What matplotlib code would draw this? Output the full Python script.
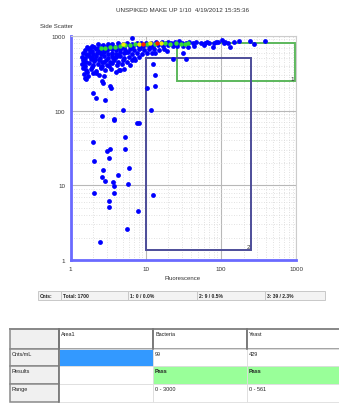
import numpy as np
import matplotlib.pyplot as plt
from matplotlib.patches import Rectangle

plt.rcParams['font.family'] = ['Liberation Sans', 'DejaVu Sans']

title = 'UNSPIKED MAKE UP 1/10  4/19/2012 15:35:36'

# events: (fluorescence, side scatter)
cloud = [
    (2.7, 760), (3.1, 790), (3.6, 775), (4.2, 800), (4.9, 785), (5.7, 805), (6.5, 790),
    (7.6, 810), (8.7, 795), (10.2, 815), (11.8, 800), (13.6, 820), (15.8, 805), (18.5, 815),
    (21.5, 800), (24.5, 820), (27.5, 795), (30.5, 815), (34, 800), (38, 825), (42, 805),
    (47, 820), (55, 810), (62, 800), (70, 815), (82, 805), (92, 820), (110, 810), (125, 800),
    (150, 830), (6.6, 930), (103, 885), (172, 865), (246, 865), (381, 865), (272, 782),
    (133, 720), (79, 720), (60, 760),
    (1.8, 690), (2.05, 720), (2.3, 700), (2.6, 735), (2.95, 710), (3.4, 740), (3.9, 715),
    (4.4, 745), (5.1, 720), (5.9, 750), (6.8, 730), (7.9, 755), (9.1, 735), (10.6, 760),
    (12.4, 745), (14.5, 765), (17, 740), (19.8, 760), (23, 735), (26, 745), (31, 730),
    (36, 720), (44, 740),
    (1.55, 640), (1.75, 665), (1.95, 630), (2.15, 660), (2.4, 645), (2.7, 670), (3.05, 640),
    (3.5, 665), (4.0, 650), (4.6, 675), (5.3, 645), (6.1, 670), (7.0, 650), (8.1, 675),
    (9.4, 655), (11, 680), (12.8, 660), (15, 640), (17.5, 665), (19.4, 637), (13.3, 600),
    (1.45, 590), (1.62, 570), (1.8, 605), (2.0, 580), (2.25, 600), (2.5, 575), (2.8, 605),
    (3.15, 580), (3.55, 600), (4.0, 575), (4.5, 605), (5.1, 585), (5.8, 610), (6.6, 580),
    (7.6, 600), (8.9, 575), (10.3, 595), (12, 585), (31.7, 588),
    (1.4, 530), (1.57, 515), (1.75, 545), (1.95, 520), (2.2, 540), (2.45, 510), (2.75, 535),
    (3.1, 515), (3.5, 545), (3.95, 520), (4.5, 540), (5.1, 510), (5.9, 530), (6.9, 505),
    (8.2, 525), (22.9, 489), (34.1, 489),
    (1.45, 470), (1.62, 455), (1.85, 485), (2.05, 460), (2.35, 475), (2.6, 450), (2.95, 480),
    (3.3, 455), (3.75, 470), (4.3, 450), (4.9, 475), (5.7, 455), (6.6, 480), (7.2, 480),
    (1.4, 420), (1.55, 400), (1.75, 430), (2.0, 410), (2.3, 425), (2.65, 400), (3.0, 415),
    (3.5, 430), (4.1, 405), (4.8, 420), (6.2, 410), (12.4, 420),
    (1.45, 370), (1.6, 350), (1.85, 365), (2.15, 345), (2.5, 370), (2.9, 350), (3.4, 360),
    (4.02, 334), (4.4, 352), (4.6, 352), (5.2, 365),
    (1.5, 310), (1.7, 295), (2.0, 315), (2.35, 300), (2.8, 290), (1.55, 272), (13.3, 296),
    (2.3, 770), (1.65, 705), (1.9, 745), (2.45, 610), (3.25, 690), (4.7, 700), (6.3, 710),
    (8.5, 700), (11.5, 720), (1.7, 560), (2.1, 495), (2.75, 445), (3.7, 500), (4.3, 560),
    (5.4, 615), (1.5, 455), (1.9, 390), (2.55, 385), (3.2, 395), (1.65, 330), (2.2, 320),
    (16.5, 840), (20, 835), (28, 845), (65, 840), (85, 830), (115, 840),
]

tail = [
    (1.6, 267), (2.61, 251), (2.72, 234), (3.34, 211), (3.41, 201), (13.3, 215), (10.5, 203),
    (1.96, 175), (2.17, 146), (2.89, 140), (4.94, 101), (11.8, 101), (2.59, 85.7),
    (3.78, 77.5), (3.81, 75.9), (7.57, 68.5), (8.07, 68.5),
    (1.96, 38.3), (2.06, 21.1), (3.05, 28.7), (3.37, 30.9), (3.21, 23.4), (5.25, 44.6),
    (5.25, 30.9), (2.72, 16.0), (2.59, 13.1), (2.89, 11.6), (4.24, 13.7), (5.93, 16.9),
    (3.63, 11.1), (3.81, 9.9), (5.87, 10.5), (2.06, 8.0), (3.78, 8.0), (12.4, 7.5),
    (3.21, 6.1), (3.21, 5.1), (7.97, 4.6), (5.58, 2.59), (2.46, 1.75),
]

# denser ridge coloured by event density
ridge_green = [
    (2.5, 690), (2.9, 700), (3.3, 720), (3.9, 705), (4.5, 740), (5.3, 760), (6.2, 750),
    (7.2, 780), (10.5, 790), (13.3, 790), (18, 810), (21, 790), (25, 800), (29, 780),
    (33, 790), (36, 810),
]
ridge_yellow = [(5.0, 770), (8.0, 790), (11.5, 805), (16, 800)]
ridge_red = [(9.2, 785), (14.3, 795)]

# gates: (x0, x1, y0, y1, label)
gate_green = (25.9, 980, 246, 800, '1')
gate_navy = (10, 253, 1.36, 514, '2')

stats = ['Cnts:', 'Total: 1700', '1: 0 / 0.0%', '2: 9 / 0.5%', '3: 39 / 2.3%']
stat_edges = [38, 61, 128, 197, 265, 325]

col_names = ['', 'Area1', 'Bacteria', 'Yeast']
row_names = ['Cnts/mL', 'Results', 'Range']
bacteria = ['99', 'Pass', '0 - 3000']
yeast = ['429', 'Pass', '0 - 561']

fig = plt.figure(figsize=(3.39, 4.06), dpi=100)
ax = fig.add_axes([70.7 / 339, 1 - 261 / 406, 225.3 / 339, 224 / 406])
ax.set_xscale('log')
ax.set_yscale('log')
ax.set_xlim(1, 1000)
ax.set_ylim(1, 1000)

ax.grid(which='major', color='#b8b8b8', lw=0.8, ls='-')
ax.grid(which='minor', color='#d8d8d8', lw=0.6, ls=(0, (1, 2)))
ax.set_axisbelow(True)
ax.set_xticks([1, 10, 100, 1000])
ax.set_xticklabels(['1', '10', '100', '1000'])
ax.set_yticks([1, 10, 100, 1000])
ax.set_yticklabels(['1', '10', '100', '1000'])
ax.tick_params(which='both', length=0, labelsize=4.5, colors='#333333', pad=4)
for s in ['left', 'bottom']:
    ax.spines[s].set_color('#6a6aff')
    ax.spines[s].set_linewidth(2)
for s in ['top', 'right']:
    ax.spines[s].set_color('#cccccc')
    ax.spines[s].set_linewidth(0.8)

for g, c in [(gate_green, '#5cb85c'), (gate_navy, '#4d4d99')]:
    x0, x1, y0, y1, lab = g
    ax.add_patch(Rectangle((x0, y0), x1 - x0, y1 - y0, fill=False, ec=c, lw=1.4, zorder=2))
    ax.text(x1 * 0.96, y0 * 1.02, lab, fontsize=4.5, ha='right', va='bottom', color='#333333')

pts = np.array(cloud + tail)
ax.scatter(pts[:, 0], pts[:, 1], s=12, c='#0000ff', lw=0, zorder=3)
for grp, c in [(ridge_green, '#33dd33'), (ridge_yellow, '#eeee00'), (ridge_red, '#ff2200')]:
    g = np.array(grp)
    ax.scatter(g[:, 0], g[:, 1], s=10, c=c, lw=0, zorder=4)

fig.text(183 / 339, 1 - 11 / 406, title, fontsize=4.5, ha='center', va='center', color='#333333')
fig.text(40 / 339, 1 - 26 / 406, 'Side Scatter', fontsize=4.3, ha='left', va='center', color='#333333')
fig.text(183 / 339, 1 - 279 / 406, 'Fluorescence', fontsize=4.3, ha='center', va='center', color='#333333')

# overlay in pixel units for the counts strip and the results grid
ov = fig.add_axes([0, 0, 1, 1])
ov.set_xlim(0, 339)
ov.set_ylim(406, 0)
ov.axis('off')
ov.patch.set_alpha(0)

for i, txt in enumerate(stats):
    x0, x1 = stat_edges[i], stat_edges[i + 1]
    ov.add_patch(Rectangle((x0, 292), x1 - x0, 9, fc='#f3f3f3', ec='#c8c8c8', lw=0.7))
    ov.text(x0 + 2, 296.5, txt, fontsize=3.6, fontweight='bold', ha='left', va='center', color='#222222')

col_x = [10, 59, 153, 247, 340]
row_y = [330, 350, 367, 385, 403]
cells = [[''] + col_names[1:]]
for r in range(3):
    cells.append([row_names[r], '', bacteria[r], yeast[r]])

for r in range(4):
    for c in range(4):
        x0, x1 = col_x[c], col_x[c + 1]
        y0, y1 = row_y[r], row_y[r + 1]
        fc = 'white'
        if c == 0:
            fc = '#f0f0f0'
        if r == 1 and c == 1:
            fc = '#3399ff'
        if r == 2 and c >= 2:
            fc = '#99ff99'
        ec = '#8a8a8a' if (c == 0 or r == 0) else '#dddddd'
        lw = 1.1 if (c == 0 or r == 0) else 0.6
        ov.add_patch(Rectangle((x0, y0), x1 - x0, y1 - y0, fc=fc, ec=ec, lw=lw))
        txt = cells[r][c]
        if txt:
            fw = 'bold' if (r == 2 and c >= 2) else 'normal'
            ov.text(x0 + 2, y0 + 5, txt, fontsize=4, ha='left', va='center', color='#222222', fontweight=fw)

ov.plot([10, 340], [330, 330], color='#8a8a8a', lw=1.4)
for x in col_x[1:4]:
    ov.plot([x, x], [330, 350], color='#777777', lw=1.2)
ov.plot([59, 59], [330, 403], color='#777777', lw=1.2)

fig.savefig('out.png', dpi=100)
